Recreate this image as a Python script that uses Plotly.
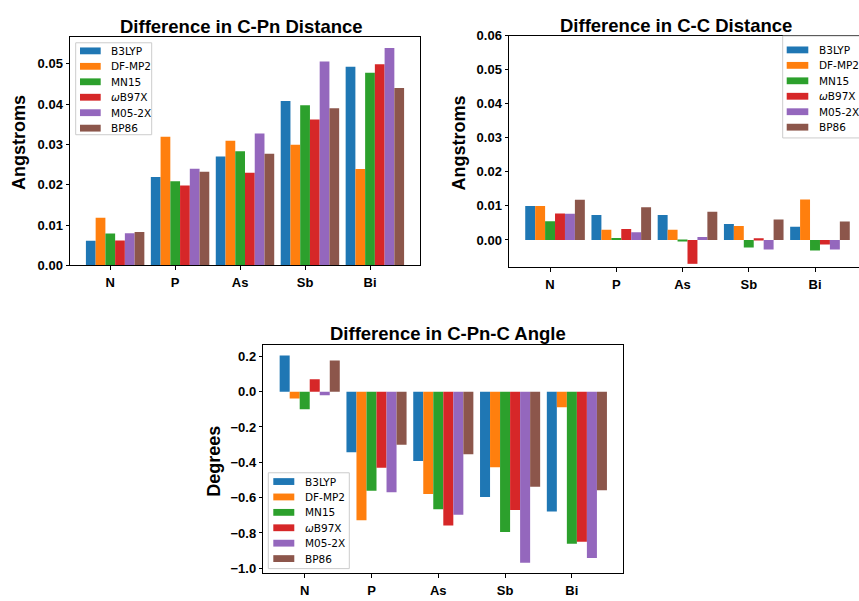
import plotly.graph_objects as go

# ---------------------------------------------------------------- data
pnictogens = ["N", "P", "As", "Sb", "Bi"]
methods = ["B3LYP", "DF-MP2", "MN15", "<i>ω</i>B97X", "M05-2X", "BP86"]
colors = ["#1f77b4", "#ff7f0e", "#2ca02c", "#d62728", "#9467bd", "#8c564b"]

# Difference in C-Pn distance (Angstroms), ordered N, P, As, Sb, Bi
cpn_b3lyp = [0.0061, 0.0219, 0.0270, 0.0408, 0.0493]
cpn_dfmp2 = [0.0118, 0.0319, 0.0309, 0.0299, 0.0239]
cpn_mn15 = [0.0079, 0.0209, 0.0283, 0.0397, 0.0478]
cpn_wb97x = [0.0062, 0.0198, 0.0230, 0.0362, 0.0499]
cpn_m052x = [0.0080, 0.0240, 0.0327, 0.0506, 0.0539]
cpn_bp86 = [0.0083, 0.0232, 0.0277, 0.0390, 0.0440]

# Difference in C-C distance (Angstroms)
cc_b3lyp = [0.0100, 0.0073, 0.0073, 0.0047, 0.0039]
cc_dfmp2 = [0.0100, 0.0030, 0.0030, 0.0041, 0.0119]
cc_mn15 = [0.0055, 0.0006, -0.0004, -0.0022, -0.0031]
cc_wb97x = [0.0078, 0.0032, -0.0070, 0.0005, -0.0013]
cc_m052x = [0.0077, 0.0023, 0.0009, -0.0028, -0.0028]
cc_bp86 = [0.0118, 0.0096, 0.0083, 0.0060, 0.0054]

# Difference in C-Pn-C angle (degrees)
ang_b3lyp = [0.205, -0.343, -0.393, -0.596, -0.679]
ang_dfmp2 = [-0.039, -0.728, -0.580, -0.428, -0.088]
ang_mn15 = [-0.099, -0.561, -0.666, -0.794, -0.861]
ang_wb97x = [0.070, -0.431, -0.758, -0.670, -0.850]
ang_m052x = [-0.020, -0.569, -0.697, -0.969, -0.941]
ang_bp86 = [0.176, -0.301, -0.354, -0.539, -0.558]

cpn_series = [cpn_b3lyp, cpn_dfmp2, cpn_mn15, cpn_wb97x, cpn_m052x, cpn_bp86]
cc_series = [cc_b3lyp, cc_dfmp2, cc_mn15, cc_wb97x, cc_m052x, cc_bp86]
ang_series = [ang_b3lyp, ang_dfmp2, ang_mn15, ang_wb97x, ang_m052x, ang_bp86]

# ---------------------------------------------------------------- layout helpers
W, H = 859, 601
BAR_W = 0.15
BOLD = dict(family="Liberation Sans, Arial, sans-serif", weight="bold", color="black")
LEG_FONT = dict(family="DejaVu Sans", size=10.5, color="black")


def fx(px):
    return px / W


def fy(py):
    return 1 - py / H


def x_limits():
    lo = -2 * BAR_W - BAR_W / 2
    hi = len(pnictogens) - 1 + 3 * BAR_W + BAR_W / 2
    pad = 0.05 * (hi - lo)
    return lo - pad, hi + pad


def y_limits(series, top=None, bottom=None):
    vals = [v for s in series for v in s] + [0.0]
    lo, hi = min(vals), max(vals)
    pad = 0.05 * (hi - lo)
    return (bottom if bottom is not None else lo - pad,
            top if top is not None else hi + pad)


fig = go.Figure()

# Panel geometry in pixels: (left, right, top, bottom)
panels = [
    dict(series=cpn_series, ax="", box=(70, 420, 31, 265), full_right=420),
    dict(series=cc_series, ax="2", box=(509, 859, 29.3, 266.7), full_right=866),
    dict(series=ang_series, ax="3", box=(263.3, 623.3, 346.7, 580.7), full_right=623.3),
]

for p in panels:
    for i, (name, col, vals) in enumerate(zip(methods, colors, p["series"])):
        fig.add_trace(go.Bar(
            x=[g + (i - 2) * BAR_W for g in range(len(pnictogens))],
            y=vals,
            width=BAR_W,
            name=name,
            marker=dict(color=col, line=dict(width=0)),
            xaxis="x" + p["ax"],
            yaxis="y" + p["ax"],
            showlegend=False,
        ))

xlo, xhi = x_limits()


def xaxis(p, mirror=True):
    left, right, top, bottom = p["box"]
    frac = (right - left) / (p["full_right"] - left)
    return dict(
        domain=[fx(left), fx(right)],
        range=[xlo, xlo + (xhi - xlo) * frac],
        anchor="y" + p["ax"],
        tickvals=list(range(len(pnictogens))),
        ticktext=pnictogens,
        ticks="outside", ticklen=3.5, tickwidth=1, tickcolor="black",
        tickfont=dict(size=13, **BOLD),
        ticklabelstandoff=2,
        showline=True, linecolor="black", linewidth=1, mirror=mirror,
        showgrid=False, zeroline=False,
    )


def yaxis(p, rng, tickvals, fmt, mirror=True):
    left, right, top, bottom = p["box"]
    return dict(
        domain=[fy(bottom), fy(top)],
        range=list(rng),
        anchor="x" + p["ax"],
        tickvals=tickvals,
        tickformat=fmt,
        ticks="outside", ticklen=3.5, tickwidth=1, tickcolor="black",
        tickfont=dict(size=13, **BOLD),
        showline=True, linecolor="black", linewidth=1, mirror=mirror,
        showgrid=False, zeroline=False,
    )


fig.update_layout(
    width=W, height=H,
    margin=dict(l=0, r=0, t=0, b=0),
    paper_bgcolor="white", plot_bgcolor="white",
    barmode="overlay",
    showlegend=False,
    xaxis=xaxis(panels[0]),
    yaxis=yaxis(panels[0], (0, y_limits(cpn_series)[1]),
                [round(k * 0.01, 2) for k in range(6)], ".2f"),
    xaxis2=xaxis(panels[1]),
    yaxis2=yaxis(panels[1], y_limits(cc_series, top=0.06),
                 [round(k * 0.01, 2) for k in range(7)], ".2f", mirror=False),
    xaxis3=xaxis(panels[2]),
    yaxis3=yaxis(panels[2], y_limits(ang_series),
                 [round(-1.0 + k * 0.2, 1) for k in range(7)], ".1f"),
)

# ---------------------------------------------------------------- titles
titles = [
    ("Difference in C-Pn Distance", 241.8, 19.5),
    ("Difference in C-C Distance", 676.0, 19.0),
    ("Difference in C-Pn-C Angle", 448.3, 335.0),
]
for text, cx, cy in titles:
    fig.add_annotation(text=text, x=fx(cx), y=fy(cy), xref="paper", yref="paper",
                       xanchor="center", yanchor="middle", showarrow=False,
                       font=dict(size=18.5, **BOLD))

ylabels = [("Angstroms", 19.7, 138.8), ("Angstroms", 458.8, 139.2), ("Degrees", 214.5, 465.8)]
for text, cx, cy in ylabels:
    fig.add_annotation(text=text, x=fx(cx), y=fy(cy), xref="paper", yref="paper",
                       xanchor="center", yanchor="middle", showarrow=False,
                       textangle=-90, font=dict(size=18, **BOLD))

# ---------------------------------------------------------------- legends
legends = [
    # box (left, right, top, bottom), patch (x0, x1), text x, first row y, row step
    dict(box=(75.7, 151.7, 36.7, 131.0), patch=(80.0, 100.7), tx=109.3, y0=45.0, dy=15.85),
    dict(box=(782.7, 870.0, 29.8, 134.3), patch=(786.7, 808.3), tx=816.7, y0=44.0, dy=15.85),
    dict(box=(268.3, 349.3, 477.7, 576.0), patch=(273.3, 294.3), tx=303.3, y0=486.7, dy=15.8),
]
for lg in legends:
    l, r, t, b = lg["box"]
    fig.add_shape(type="rect", xref="paper", yref="paper",
                  x0=fx(l), x1=fx(r), y0=fy(b), y1=fy(t),
                  fillcolor="rgba(255,255,255,0.8)",
                  line=dict(color="#cccccc", width=1))
    for i, (name, col) in enumerate(zip(methods, colors)):
        cy = lg["y0"] + i * lg["dy"]
        fig.add_shape(type="rect", xref="paper", yref="paper",
                      x0=fx(lg["patch"][0]), x1=fx(lg["patch"][1]),
                      y0=fy(cy + 3.5), y1=fy(cy - 3.5),
                      fillcolor=col, line=dict(width=0))
        fig.add_annotation(text=name, x=fx(lg["tx"]), y=fy(cy), xref="paper", yref="paper",
                           xanchor="left", yanchor="middle", showarrow=False,
                           font=LEG_FONT)

fig.write_html("out.html")
